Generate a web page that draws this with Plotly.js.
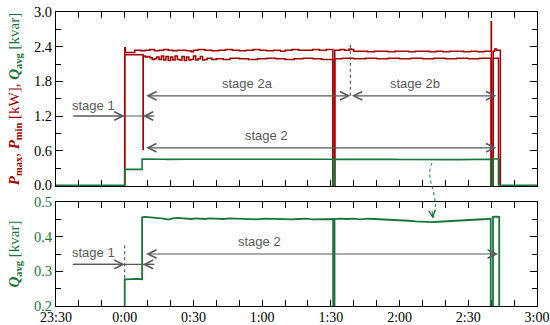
<!DOCTYPE html>
<html><head><meta charset="utf-8">
<script src="https://cdn.plot.ly/plotly-3.0.1.min.js"></script>
<style>html,body{margin:0;padding:0;background:#fff}#chart{width:550px;height:325px}</style>
</head><body><div id="chart"></div>
<script>
// time in minutes relative to 0:00
const pmaxTime = [0,0,0.3,3,4.4,5,7,9,11,13,15,17,19,21,23,25,27,29,30,32,35,38,41,44,47,50,53,56,59,62,65,68,70,73,76,79,82,85,88,90.9,90.9,91.7,91.7,94,96,98,99,100,103,106,109,112,115,118,121,124,127,130,133,136,139,142,145,148,151,154,157,159.8,160.0,160.1,160.9,160.9,161.5,162.3,164.0,164.0];
const pmaxValues = [0,2.38,2.30,2.30,2.34,2.34,2.33,2.34,2.35,2.33,2.34,2.35,2.34,2.33,2.34,2.34,2.33,2.31,2.34,2.35,2.34,2.33,2.34,2.35,2.34,2.33,2.34,2.35,2.34,2.33,2.34,2.32,2.34,2.35,2.34,2.34,2.35,2.34,2.35,2.34,0,0,2.34,2.35,2.34,2.36,2.35,2.32,2.32,2.31,2.32,2.32,2.31,2.32,2.32,2.31,2.32,2.32,2.31,2.32,2.31,2.32,2.32,2.31,2.32,2.31,2.32,2.32,2.83,0,0,2.32,2.36,2.34,2.32,0];

const pminTime = [0,0,4,7.9,8.0,8.1,9,10,11,12,13,14,15,16,17,18,19,20,21,22,23,24,25,26,27,28,29,30,31,32,33,34,35,36,38,40,43,46,50,54,58,62,66,70,74,78,82,86,90.9,90.9,91.7,91.7,95,100,105,110,115,120,125,130,135,140,145,150,155,159.9,159.9,160.9,160.9,163.2,163.2];
const pminValues = [0,2.26,2.26,2.26,0.62,2.24,2.22,2.23,2.21,2.18,2.19,2.22,2.18,2.24,2.17,2.23,2.16,2.22,2.17,2.24,2.18,2.17,2.23,2.16,2.22,2.17,2.18,2.24,2.17,2.19,2.23,2.17,2.18,2.20,2.18,2.19,2.18,2.20,2.19,2.18,2.19,2.20,2.19,2.18,2.19,2.20,2.19,2.18,2.19,0,0,2.19,2.20,2.19,2.20,2.19,2.20,2.19,2.20,2.19,2.20,2.19,2.20,2.19,2.20,2.20,0,0,2.20,2.20,0];

const qTime = [-30,0,0,2,4,6,7.6,7.6,9,11,13,15,17,19,21,23,25,27,29,31,33,35,37,40,43,46,49,52,55,58,61,64,67,70,73,76,79,82,85,88,91.0,91.0,91.6,91.6,94,97,100,103,106,109,112,115,118,121,124,127,130,134,137,140,143,146,149,152,155,158,159.8,159.8,160.8,160.8,162,163.5,163.5,180];
const qValues = [0,0,0.277,0.278,0.277,0.278,0.277,0.456,0.457,0.456,0.455,0.454,0.452,0.449,0.453,0.454,0.453,0.452,0.451,0.453,0.452,0.451,0.453,0.452,0.451,0.453,0.452,0.451,0.452,0.450,0.452,0.451,0.452,0.451,0.450,0.451,0.452,0.450,0.451,0.450,0.451,0,0,0.451,0.452,0.451,0.452,0.450,0.452,0.451,0.450,0.449,0.450,0.448,0.446,0.444,0.443,0.442,0.443,0.444,0.446,0.445,0.447,0.447,0.449,0.451,0.452,0,0,0.457,0.458,0.457,0,0];

const xTickVals = [-30,0,30,60,90,120,150,180];
const xTickText = ['23:30','0:00','0:30','1:00','1:30','2:00','2:30','3:00'];

// annotation texts and anchor points
const topLabels = [['stage 1',-13.5,1.38],['stage 2a',53.7,1.76],['stage 2b',126.7,1.76],['stage 2',62,0.86]];
const botLabels = [['stage 1',-13.5,0.355],['stage 2',59,0.385]];
// double-headed arrows: [x0, x1, y]
const topArrows = [[8.7,98.5,1.55],[98.5,162.3,1.55],[8.7,162.3,0.65]];
const botArrows = [[8.7,163,0.35]];
// stage 1 marker lines: [xStart, xEnd, headRight, headLeft, y]
const topStage1 = [-22.7,13,0,7.9,1.2];
const botStage1 = [-22.7,13,0,7.9,0.32];

const RED = '#a80000', GREEN = '#17763a', GRAY = '#5a5a5a';

const traces = [
  {x:pmaxTime,y:pmaxValues,xaxis:'x2',yaxis:'y2',mode:'lines',line:{color:RED,width:1.5,shape:'hv'}},
  {x:pminTime,y:pminValues,xaxis:'x2',yaxis:'y2',mode:'lines',line:{color:RED,width:1.5,shape:'hv'}},
  {x:qTime,y:qValues,xaxis:'x2',yaxis:'y2',mode:'lines',line:{color:GREEN,width:1.6}},
  {x:qTime,y:qValues,xaxis:'x',yaxis:'y',mode:'lines',line:{color:GREEN,width:1.8}}
];

const annotations = [], shapes = [];
const txtFont = {family:'Liberation Sans, Arial, sans-serif',size:13,color:GRAY};
topLabels.forEach(l=>annotations.push({text:l[0],x:l[1],y:l[2],xref:'x2',yref:'y2',showarrow:false,font:txtFont}));
botLabels.forEach(l=>annotations.push({text:l[0],x:l[1],y:l[2],xref:'x',yref:'y',showarrow:false,font:txtFont}));
function arrow(xr,yr,hx,tx,y,side){
  return {text:'',x:hx,y:y,ax:tx,ay:y,xref:xr,yref:yr,axref:xr,ayref:yr,showarrow:true,
    arrowhead:5,startarrowhead:5,arrowside:side||'end',arrowsize:1.4,startarrowsize:1.4,arrowwidth:1.2,arrowcolor:GRAY,standoff:0,startstandoff:0};
}
topArrows.forEach(a=>annotations.push(arrow('x2','y2',a[1],a[0],a[2],'end+start')));
botArrows.forEach(a=>annotations.push(arrow('x','y',a[1],a[0],a[2],'end+start')));
[[topStage1,'x2','y2'],[botStage1,'x','y']].forEach(([s,xr,yr])=>{
  shapes.push({type:'line',xref:xr,yref:yr,x0:s[0],x1:s[1],y0:s[4],y1:s[4],line:{color:GRAY,width:1.2}});
  annotations.push(arrow(xr,yr,s[2],s[0],s[4]));
  annotations.push(arrow(xr,yr,s[3],s[1],s[4]));
});
// dashed guides
shapes.push({type:'line',xref:'x2',yref:'y2',x0:98.5,x1:98.5,y0:1.55,y1:2.47,line:{color:'#444',width:1,dash:'3px,3px'}});
shapes.push({type:'line',xref:'x',yref:'y',x0:0,x1:0,y0:0.28,y1:0.376,line:{color:'#444',width:1,dash:'3px,3px'}});
// curved green pointer
shapes.push({type:'path',xref:'paper',yref:'paper',path:'M 0.7817,0.4864 C 0.764,0.43 0.802,0.37 0.7835,0.30',line:{color:GREEN,width:1,dash:'dot'}});
annotations.push({text:'',xref:'paper',yref:'paper',x:0.7835,y:0.298,ax:-1,ay:-9,showarrow:true,arrowhead:5,arrowsize:1.3,arrowwidth:1,arrowcolor:GREEN,standoff:0});

const tickFont = {family:'Liberation Serif, Times New Roman, serif',size:15,color:'#000'};
const xBase = {range:[-30,180],tickmode:'array',tickvals:xTickVals,ticktext:xTickText,ticks:'inside',ticklen:6,
  minor:{tickmode:'linear',tick0:-30,dtick:10,ticks:'inside',ticklen:6,tickcolor:'#000'},
  showline:true,linecolor:'#000',linewidth:1,mirror:'allticks',showgrid:false,zeroline:false,
  tickfont:Object.assign({},tickFont,{size:14}),tickcolor:'#000',layer:'below traces',ticklabelstandoff:-2};

const layout = {
  width:550,height:325,margin:{l:56,r:13,t:12,b:19},paper_bgcolor:'#fff',plot_bgcolor:'#fff',showlegend:false,
  xaxis:Object.assign({},xBase,{anchor:'y'}),
  xaxis2:Object.assign({},xBase,{anchor:'y2',matches:'x',showticklabels:false}),
  yaxis:{domain:[0,0.3537],range:[0.2,0.5],tickmode:'linear',tick0:0.2,dtick:0.1,tickformat:'.1f',ticks:'inside',ticklen:7,
    minor:{dtick:0.05,ticks:'inside',ticklen:5,tickcolor:'#000'},showline:true,linecolor:'#000',mirror:'allticks',showgrid:false,zeroline:false,
    tickfont:Object.assign({},tickFont,{color:GREEN,size:14.5}),tickcolor:'#000',automargin:false,layer:'below traces',
    title:{text:'<b><i>Q</i><sub>avg</sub></b> [kvar]',font:{family:'Liberation Serif, serif',size:15,color:GREEN},standoff:10}},
  yaxis2:{domain:[0.408,1],range:[-0.012,3],tickmode:'linear',tick0:0,dtick:0.6,tickformat:'.1f',ticks:'inside',ticklen:7,
    minor:{dtick:0.3,ticks:'inside',ticklen:5,tickcolor:'#000'},showline:true,linecolor:'#000',mirror:'allticks',showgrid:false,zeroline:false,
    tickfont:Object.assign({},tickFont,{size:14.5}),tickcolor:'#000',automargin:false,layer:'below traces',
    title:{text:'<span style="color:'+RED+'"><b><i>P</i><sub>max</sub></b>, <b><i>P</i><sub>min</sub></b> [kW], </span><span style="color:'+GREEN+'"><b><i>Q</i><sub>avg</sub></b> [kvar]</span>',
      font:{family:'Liberation Serif, serif',size:15,color:RED},standoff:10}},
  annotations:annotations,shapes:shapes
};
Plotly.newPlot('chart',traces,layout,{staticPlot:true,displayModeBar:false});
</script></body></html>
